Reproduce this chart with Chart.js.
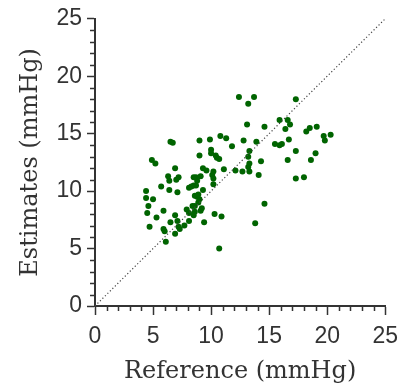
<!DOCTYPE html>
<html>
<head>
<meta charset="utf-8">
<script src="https://cdn.jsdelivr.net/npm/chart.js@4/dist/chart.umd.min.js"></script>
<style>
  html, body { margin: 0; padding: 0; background: #fff; }
  #wrap { width: 406px; height: 389px; }
</style>
</head>
<body>
<div id="wrap"><canvas id="scatterChart" width="406" height="389"></canvas></div>
<script>
// ── Data: reference vs estimated pressure (mmHg) ──────────────
const refValues = [
  12.4, 13.2, 13.1, 6.5, 6.7, 9.0, 9.9, 10.8, 11.3, 12.8,
  11.8, 9.0, 10.0, 10.0, 10.4, 10.5, 10.7, 4.9, 5.2, 6.9,
  9.3, 9.6, 10.2, 10.1, 10.2, 11.1, 12.1, 12.7, 6.3, 6.4,
  7.2, 7.0, 8.5, 8.7, 9.1, 8.8, 8.1, 8.3, 8.5, 8.7,
  10.2, 5.7, 6.4, 7.1, 9.3, 4.4, 4.4, 5.0, 8.6, 8.8,
  9.0, 8.9, 8.9, 8.6, 8.4, 4.6, 4.5, 5.9, 7.9, 8.1,
  9.2, 9.1, 8.6, 8.5, 5.3, 6.9, 10.3, 10.9, 6.5, 7.1,
  8.1, 9.4, 4.7, 7.2, 7.3, 7.7, 5.9, 6.0, 6.9, 6.1,
  10.7,
  13.7, 17.3, 14.6, 15.9, 16.6, 16.8, 16.4, 18.2, 18.5, 19.1,
  19.7, 19.8, 20.3, 13.9, 15.5, 15.9, 16.1, 16.7, 13.3, 13.2,
  17.3, 19.0, 18.6, 16.6, 14.3, 13.3, 13.2, 13.3, 14.1, 17.3,
  18.0, 14.6, 13.8,
];
const estValues = [
  18.2, 17.6, 15.8, 14.3, 14.2, 14.4, 14.5, 14.8, 14.6, 14.4,
  13.9, 13.1, 13.6, 13.3, 13.1, 12.9, 12.8, 12.7, 12.4, 12.0,
  12.0, 11.8, 11.7, 11.4, 11.1, 11.9, 11.8, 11.7, 11.3, 10.9,
  11.2, 11.0, 11.2, 11.2, 11.3, 10.9, 10.3, 10.4, 10.5, 10.5,
  10.6, 10.4, 10.1, 9.9, 10.1, 10.0, 9.4, 9.3, 9.6, 9.5,
  9.3, 9.7, 9.0, 8.7, 8.7, 8.7, 8.1, 8.3, 8.4, 8.1,
  8.5, 8.3, 8.2, 7.9, 7.7, 7.9, 8.0, 7.8, 7.3, 7.4,
  7.4, 7.3, 6.9, 6.9, 6.7, 7.0, 6.7, 6.5, 6.3, 5.6,
  5.0,
  18.2, 18.0, 15.6, 16.2, 16.2, 15.8, 15.4, 15.2, 15.5, 15.6,
  14.8, 14.4, 14.9, 14.3, 14.1, 14.0, 14.1, 14.5, 13.5, 13.0,
  13.5, 13.3, 12.7, 12.7, 12.6, 12.4, 12.1, 11.7, 11.4, 11.1,
  11.2, 8.9, 7.2,
];
const identityLine = [0, 25];
const axisMin = 0;
const axisMax = 25;
const majorStep = 5;

const AXIS_COLOR = "#333333";
const POINT_COLOR = "#006400";

// minor ticks every 1 mmHg, drawn through the chart's own scales
const minorTicks = {
  id: "minorTicks",
  afterDraw(chart) {
    const { ctx, chartArea, scales } = chart;
    ctx.save();
    ctx.strokeStyle = AXIS_COLOR;
    ctx.lineWidth = 1.5;
    ctx.beginPath();
    for (let v = axisMin; v <= axisMax; v++) {
      if (v % majorStep === 0) continue;
      const px = Math.round(scales.x.getPixelForValue(v)) + 0.5;
      ctx.moveTo(px, chartArea.bottom);
      ctx.lineTo(px, chartArea.bottom + 5);
      const py = Math.round(scales.y.getPixelForValue(v)) + 0.5;
      ctx.moveTo(chartArea.left, py);
      ctx.lineTo(chartArea.left - 5, py);
    }
    ctx.stroke();
    ctx.restore();
  },
};

const tickFont = { family: "'Liberation Sans', Arial, sans-serif", size: 23 };
const titleFont = { family: "'DejaVu Serif', serif", size: 24 };

new Chart(document.getElementById("scatterChart").getContext("2d"), {
  type: "scatter",
  data: {
    datasets: [
      {
        label: "Identity",
        type: "line",
        data: identityLine.map(v => ({ x: v, y: v })),
        borderColor: "#444444",
        borderWidth: 1.2,
        borderDash: [1.2, 2.3],
        pointRadius: 0,
        fill: false,
      },
      {
        label: "Estimates",
        data: refValues.map((x, i) => ({ x, y: estValues[i] })),
        backgroundColor: POINT_COLOR,
        borderWidth: 0,
        pointRadius: 3,
      },
    ],
  },
  options: {
    responsive: false,
    animation: false,
    devicePixelRatio: 1,
    layout: { padding: { top: 15, right: 19, left: 0, bottom: 0 } },
    plugins: { legend: { display: false }, tooltip: { enabled: false } },
    scales: {
      x: {
        type: "linear",
        min: axisMin,
        max: axisMax,
        afterFit: s => { s.height = 83; },
        ticks: { stepSize: majorStep, color: AXIS_COLOR, font: tickFont, padding: 8, maxRotation: 0 },
        grid: { drawOnChartArea: false, tickLength: 9, tickColor: AXIS_COLOR, tickWidth: 1.5 },
        border: { color: AXIS_COLOR, width: 2 },
        title: { display: true, text: "Reference (mmHg)", color: AXIS_COLOR, font: titleFont, padding: { top: 0, bottom: 3 } },
      },
      y: {
        type: "linear",
        min: axisMin,
        max: axisMax,
        afterFit: s => { s.width = 95; },
        ticks: { stepSize: majorStep, color: AXIS_COLOR, font: tickFont, padding: 5 },
        grid: { drawOnChartArea: false, tickLength: 8, tickColor: AXIS_COLOR, tickWidth: 1.5 },
        border: { color: AXIS_COLOR, width: 2 },
        title: { display: true, text: "Estimates (mmHg)", color: AXIS_COLOR, font: titleFont, padding: { top: 16, bottom: 0 } },
      },
    },
  },
  plugins: [minorTicks],
});
</script>
</body>
</html>
